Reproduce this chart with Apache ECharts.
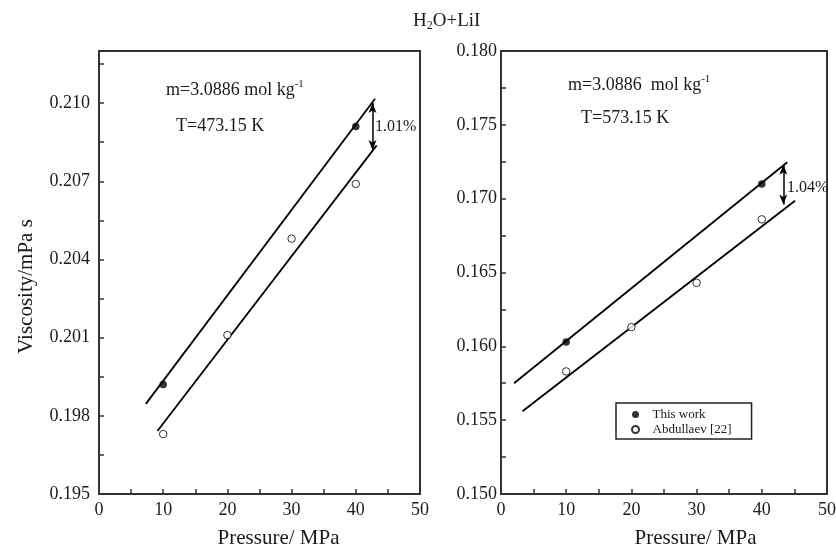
<!DOCTYPE html>
<html>
<head>
<meta charset="utf-8">
<script src="https://cdn.jsdelivr.net/npm/echarts@6/dist/echarts.min.js"></script>
<style>
  html, body { margin: 0; padding: 0; background: #fff; }
  #main { width: 836px; height: 545px; }
</style>
</head>
<body>
<div id="main"></div>
<script>
// values
const pressureTicks = [0, 10, 20, 30, 40, 50]

// left panel, T = 473.15 K
const leftWorkP = [10, 40]
const leftWorkV = [0.1992, 0.2091]
const leftRefP = [10, 20, 30, 40]
const leftRefV = [0.1973, 0.2011, 0.2048, 0.2069]
const leftUpperP = [7.3, 43.0]
const leftUpperV = [0.19846, 0.21017]
const leftLowerP = [9.1, 43.25]
const leftLowerV = [0.19742, 0.20838]
const leftArrowP = 42.6
const leftArrowV = [0.2100, 0.2082]

// right panel, T = 573.15 K
const rightWorkP = [10, 40]
const rightWorkV = [0.1603, 0.1710]
const rightRefP = [10, 20, 30, 40]
const rightRefV = [0.1583, 0.1613, 0.1643, 0.1686]
const rightUpperP = [2.0, 43.9]
const rightUpperV = [0.1575, 0.17247]
const rightLowerP = [3.3, 45.1]
const rightLowerV = [0.1556, 0.16986]
const rightArrowP = 43.3
const rightArrowV = [0.1723, 0.1696]

const serif = "'Liberation Serif', 'Times New Roman', serif"
const ink = '#1a1a1a'
const axisInk = '#333'

function pairs(xs, ys) {
    return xs.map((x, i) => [x, ys[i]])
}

function yLabel(step, top) {
    return function (v) {
        let k = Math.round(v / step)
        if (Math.abs(v - k * step) > 1e-7) return ''
        if (k % 2 !== 0 || v > top + 1e-7) return ''
        return v.toFixed(3)
    }
}

function xAxisFor(gridIndex, padLeft) {
    return {
        type: 'value', gridIndex: gridIndex, min: pressureTicks[0], max: pressureTicks[pressureTicks.length - 1], interval: 10,
        name: 'Pressure/ MPa', nameLocation: 'middle', nameGap: 34,
        nameTextStyle: { fontFamily: serif, fontSize: 21, color: ink, padding: [0, 0, 0, padLeft] },
        axisLine: { show: true, onZero: false, lineStyle: { color: axisInk, width: 2 } },
        axisTick: { show: true, inside: true, length: 5, lineStyle: { color: axisInk, width: 1.5 } },
        minorTick: { show: true, splitNumber: 2, length: 5, lineStyle: { color: axisInk, width: 1.5 } },
        splitLine: { show: false },
        axisLabel: { fontFamily: serif, fontSize: 18, color: ink, margin: 7 }
    }
}

function yAxisFor(gridIndex, min, max, step, top, margin) {
    return {
        type: 'value', gridIndex: gridIndex, min: min, max: max, interval: step,
        axisLine: { show: true, onZero: false, lineStyle: { color: axisInk, width: 2 } },
        axisTick: { show: true, inside: true, length: 5, lineStyle: { color: axisInk, width: 1.5 } },
        splitLine: { show: false },
        axisLabel: { fontFamily: serif, fontSize: 18, color: ink, margin: margin, formatter: yLabel(step, top) }
    }
}

function fitLine(xIdx, xs, ys, arrowP, arrowV) {
    let s = {
        type: 'line', xAxisIndex: xIdx, yAxisIndex: xIdx, data: pairs(xs, ys),
        symbol: 'none', silent: true, z: 2,
        lineStyle: { color: '#000', width: 1.8 }
    }
    if (arrowP !== undefined) {
        s.markLine = {
            silent: true, symbol: ['arrow', 'arrow'], symbolSize: [6, 10],
            label: { show: false },
            lineStyle: { color: '#000', width: 1.5, type: 'solid' },
            data: [[{ coord: [arrowP, arrowV[0]] }, { coord: [arrowP, arrowV[1]] }]]
        }
    }
    return s
}

function dots(name, xIdx, xs, ys, filled) {
    return {
        type: 'scatter', name: name, xAxisIndex: xIdx, yAxisIndex: xIdx, data: pairs(xs, ys),
        symbol: 'circle', symbolSize: 7.5, z: 5,
        itemStyle: filled ? { color: '#000' } : { color: '#fff', borderColor: '#000', borderWidth: 1 }
    }
}

function txt(x, y, text, rich) {
    return {
        type: 'text', x: x, y: y, silent: true,
        style: { text: text, rich: rich, verticalAlign: 'middle', fill: ink, font: '18px ' + serif }
    }
}

const supRich = {
    n: { fontFamily: serif, fontSize: 18, color: ink, lineHeight: 22 },
    s: { fontFamily: serif, fontSize: 11, color: ink, lineHeight: 12, verticalAlign: 'top' }
}
const subRich = {
    n: { fontFamily: serif, fontSize: 19, color: ink, lineHeight: 22 },
    b: { fontFamily: serif, fontSize: 12, color: ink, lineHeight: 12, verticalAlign: 'bottom' }
}
const pctRich = {
    n: { fontFamily: serif, fontSize: 16, color: ink }
}

var myChart = echarts.init(document.getElementById('main'), null, { renderer: 'canvas' })

var option = {
    backgroundColor: '#fff',
    animation: false,
    grid: [
        { left: 99, right: 416, top: 51, bottom: 51, show: true, borderColor: axisInk, borderWidth: 2, outerBoundsMode: 'none' },
        { left: 501, right: 9, top: 51, bottom: 51, show: true, borderColor: axisInk, borderWidth: 2, outerBoundsMode: 'none' }
    ],
    xAxis: [xAxisFor(0, 38), xAxisFor(1, 63)],
    yAxis: [
        Object.assign(yAxisFor(0, 0.195, 0.212, 0.0015, 0.210, 9), {
            name: 'Viscosity/mPa s', nameLocation: 'middle', nameGap: 62,
            nameTextStyle: { fontFamily: serif, fontSize: 21, color: ink, padding: [0, 28, 0, 0] }
        }),
        yAxisFor(1, 0.150, 0.180, 0.0025, 0.180, 4)
    ],
    legend: {
        left: 616, top: 403, orient: 'vertical',
        data: ['This work', 'Abdullaev [22]'],
        icon: 'circle', itemWidth: 24, itemHeight: 7, itemGap: 2,
        padding: [5, 20, 3, 15],
        borderColor: '#222', borderWidth: 1.5, backgroundColor: '#fff',
        textStyle: { fontFamily: serif, fontSize: 13, color: ink }
    },
    series: [
        fitLine(0, leftUpperP, leftUpperV, leftArrowP, leftArrowV),
        fitLine(0, leftLowerP, leftLowerV),
        fitLine(1, rightUpperP, rightUpperV, rightArrowP, rightArrowV),
        fitLine(1, rightLowerP, rightLowerV),
        dots('This work', 0, leftWorkP, leftWorkV, true),
        dots('Abdullaev [22]', 0, leftRefP, leftRefV, false),
        dots('This work', 1, rightWorkP, rightWorkV, true),
        dots('Abdullaev [22]', 1, rightRefP, rightRefV, false)
    ],
    graphic: [
        txt(413, 21, '{n|H}{b|2}{n|O+LiI}', subRich),
        txt(166, 90, '{n|m=3.0886 mol kg}{s|-1}', supRich),
        txt(176, 126, '{n|T=473.15 K}', supRich),
        txt(568, 85, '{n|m=3.0886  mol kg}{s|-1}', supRich),
        txt(581, 118, '{n|T=573.15 K}', supRich),
        txt(375, 127, '{n|1.01%}', pctRich),
        txt(787, 188, '{n|1.04%}', pctRich)
    ]
}

myChart.setOption(option)
</script>
</body>
</html>
